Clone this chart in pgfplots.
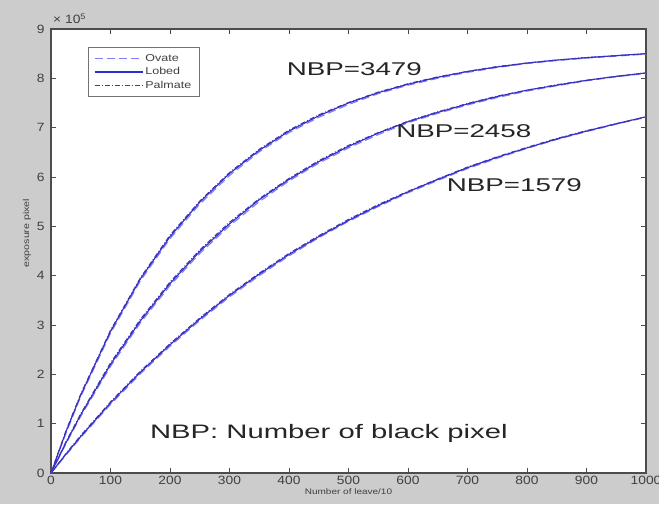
\documentclass[border=0pt]{standalone}
\usepackage{fontspec}
\setmainfont{Liberation Sans}
\newfontfamily\tickfont[FakeStretch=1.15]{Liberation Sans}
\newfontfamily\notefont[FakeStretch=1.5]{Liberation Sans}
\newfontfamily\smallfont[FakeStretch=1.25]{Liberation Sans}
\usepackage{pgfplots}
\usepackage{pgfplotstable}
\pgfplotsset{compat=1.18}

\definecolor{figgray}{RGB}{204,204,204}
\definecolor{ovate}{RGB}{125,125,250}
\definecolor{lobed}{RGB}{45,45,215}
\definecolor{palmate}{RGB}{70,50,170}

% NBP=3479
\pgfplotstableread{
x    ovate lobed palmate
0    0     0     0
25   0.80  0.83  0.85
50   1.55  1.58  1.60
100  2.83  2.87  2.89
150  3.89  3.93  3.95
200  4.75  4.79  4.82
250  5.45  5.49  5.51
300  6.03  6.07  6.09
350  6.51  6.54  6.56
400  6.90  6.93  6.95
450  7.21  7.24  7.26
500  7.47  7.50  7.51
550  7.69  7.71  7.72
600  7.86  7.88  7.89
650  8.00  8.02  8.03
700  8.12  8.14  8.14
750  8.22  8.23  8.24
800  8.30  8.31  8.31
850  8.36  8.37  8.37
900  8.41  8.42  8.42
950  8.45  8.46  8.46
1000 8.49  8.50  8.50
}\topdata

% NBP=2458
\pgfplotstableread{
x    ovate lobed palmate
0    0     0     0
25   0.59  0.61  0.63
50   1.15  1.18  1.20
100  2.16  2.20  2.23
150  3.04  3.08  3.11
200  3.80  3.84  3.87
250  4.45  4.49  4.52
300  5.01  5.05  5.08
350  5.50  5.54  5.56
400  5.92  5.95  5.97
450  6.28  6.31  6.33
500  6.59  6.62  6.64
550  6.86  6.89  6.90
600  7.10  7.12  7.13
650  7.29  7.31  7.32
700  7.46  7.48  7.49
750  7.61  7.63  7.64
800  7.74  7.76  7.76
850  7.85  7.86  7.87
900  7.95  7.96  7.96
950  8.03  8.04  8.04
1000 8.10  8.11  8.11
}\middata

% NBP=1579
\pgfplotstableread{
x    ovate lobed palmate
0    0     0     0
25   0.36  0.38  0.39
50   0.72  0.74  0.76
100  1.39  1.42  1.44
150  2.01  2.04  2.06
200  2.57  2.60  2.62
250  3.09  3.12  3.14
300  3.57  3.60  3.62
350  4.00  4.03  4.05
400  4.40  4.43  4.45
450  4.77  4.79  4.81
500  5.10  5.12  5.14
550  5.40  5.42  5.44
600  5.68  5.70  5.71
650  5.93  5.95  5.96
700  6.17  6.19  6.20
750  6.38  6.40  6.41
800  6.58  6.59  6.60
850  6.76  6.77  6.78
900  6.92  6.93  6.94
950  7.07  7.08  7.08
1000 7.21  7.22  7.22
}\lowdata

\begin{document}
\begin{tikzpicture}[x=1pt,y=1pt]
\fill[figgray] (0,0) rectangle (659,504);
\useasboundingbox (0,0) rectangle (659,504);
\begin{axis}[
    at={(51pt,31pt)}, anchor=south west,
    scale only axis, width=595pt, height=444pt,
    xmin=0, xmax=1000, ymin=0, ymax=9,
    xtick={0,100,...,1000}, ytick={0,1,...,9},
    clip=false,
    tick align=inside, major tick length=5pt,
    tick style={draw=black!70, line width=0.8pt},
    axis background/.style={fill=white},
    axis line style={draw=black!70, line width=1.2pt},
    /pgf/number format/assume math mode=true,
    /pgf/number format/1000 sep={},
    xticklabel style={font=\tickfont\fontsize{12}{12}\selectfont, text=black!75},
    yticklabel style={font=\tickfont\fontsize{12}{12}\selectfont, text=black!75, xshift=-3pt},
    xlabel={Number of leave/10},
    ylabel={exposure pixel},
    xlabel style={font=\smallfont\fontsize{8}{8}\selectfont, text=black!75, yshift=3pt},
    ylabel style={font=\smallfont\fontsize{8.5}{9}\selectfont, text=black!75, yshift=-1pt, xshift=18pt},
    legend image code/.code={\draw[#1] (0pt,0pt) -- (48pt,0pt);},
    legend cell align=left,
    legend style={at={(0.062,0.959)}, anchor=north west,
        font=\smallfont\fontsize{10}{12}\selectfont, text=black!75,
        draw=black!55, line width=0.8pt, inner xsep=6pt, inner ysep=5pt,
        row sep=0.5pt},
]
\addplot[ovate, line width=1.1pt, dash pattern=on 8pt off 4pt] table[x=x, y=ovate] {\topdata};
\addplot[lobed, line width=1.1pt] table[x=x, y=lobed] {\topdata};
\addplot[palmate, line width=1.1pt, dash pattern=on 5pt off 2pt on 1pt off 2pt] table[x=x, y=palmate] {\topdata};
\legend{Ovate, Lobed, Palmate}

\addplot[ovate, line width=1.1pt, dash pattern=on 8pt off 4pt, forget plot] table[x=x, y=ovate] {\middata};
\addplot[lobed, line width=1.1pt, forget plot] table[x=x, y=lobed] {\middata};
\addplot[palmate, line width=1.1pt, dash pattern=on 5pt off 2pt on 1pt off 2pt, forget plot] table[x=x, y=palmate] {\middata};

\addplot[ovate, line width=1.1pt, dash pattern=on 8pt off 4pt, forget plot] table[x=x, y=ovate] {\lowdata};
\addplot[lobed, line width=1.1pt, forget plot] table[x=x, y=lobed] {\lowdata};
\addplot[palmate, line width=1.1pt, dash pattern=on 5pt off 2pt on 1pt off 2pt, forget plot] table[x=x, y=palmate] {\lowdata};

\node[anchor=west, font=\notefont\fontsize{18.5}{18.5}\selectfont, text=black!85, inner sep=0pt] at (axis cs:396,8.19) {NBP=3479};
\node[anchor=west, font=\notefont\fontsize{18.5}{18.5}\selectfont, text=black!85, inner sep=0pt] at (axis cs:580,6.92) {NBP=2458};
\node[anchor=west, font=\notefont\fontsize{18.5}{18.5}\selectfont, text=black!85, inner sep=0pt] at (axis cs:665,5.84) {NBP=1579};
\node[anchor=center, font=\notefont\fontsize{19.5}{19.5}\selectfont, text=black!85, inner sep=0pt] at (axis cs:467,0.81) {NBP: Number of black pixel};
\node[anchor=south west, font=\tickfont\fontsize{12}{12}\selectfont, text=black!75, inner sep=0pt] at (rel axis cs:0,1) [yshift=5pt, xshift=2pt] {× 10\textsuperscript{5}};
\end{axis}
\end{tikzpicture}
\end{document}
